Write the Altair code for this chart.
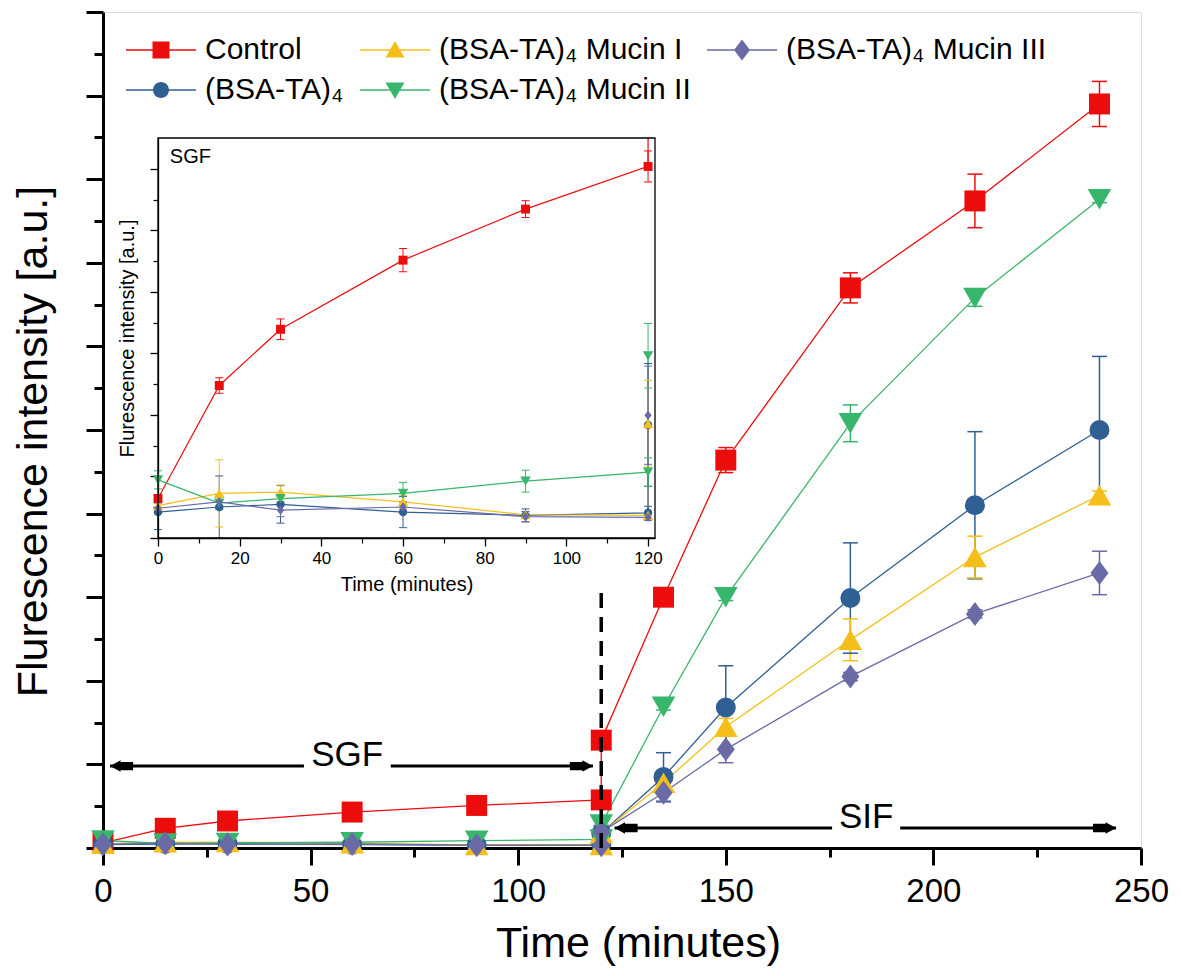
import altair as alt
import pandas as pd

# ---------------- data ----------------
time = [0, 15, 30, 60, 90, 120, 120, 135, 150, 180, 210, 240]

S_CTRL = "Control"
S_BSA = "(BSA-TA)₄"
S_M1 = "(BSA-TA)₄ Mucin I"
S_M2 = "(BSA-TA)₄ Mucin II"
S_M3 = "(BSA-TA)₄ Mucin III"
series_names = [S_CTRL, S_BSA, S_M1, S_M2, S_M3]

control = [0.061, 0.236, 0.323, 0.430, 0.509, 0.575, 1.29, 3.00, 4.64, 6.70, 7.74, 8.90]
control_err = [0.006, 0.012, 0.016, 0.018, 0.013, 0.024, 0.04, 0.04, 0.15, 0.18, 0.32, 0.27]
bsa = [0.040, 0.048, 0.052, 0.040, 0.035, 0.039, 0.175, 0.85, 1.68, 2.99, 4.10, 5.00]
bsa_err = [0.027, 0.048, 0.029, 0.024, 0.010, 0.010, 0.095, 0.29, 0.50, 0.66, 0.88, 0.88]
mucin1 = [0.050, 0.069, 0.071, 0.056, 0.036, 0.035, 0.177, 0.78, 1.45, 2.49, 3.48, 4.22]
mucin1_err = [0.010, 0.052, 0.011, 0.010, 0.005, 0.005, 0.067, 0.06, 0.10, 0.25, 0.25, 0.05]
mucin2 = [0.090, 0.054, 0.061, 0.069, 0.088, 0.102, 0.282, 1.69, 3.00, 5.08, 6.58, 7.76]
mucin2_err = [0.014, 0.010, 0.005, 0.017, 0.017, 0.022, 0.05, 0.04, 0.04, 0.22, 0.10, 0.04]
mucin3 = [0.046, 0.056, 0.043, 0.048, 0.033, 0.032, 0.190, 0.66, 1.18, 2.05, 2.80, 3.29]
mucin3_err = [0.008, 0.010, 0.010, 0.008, 0.008, 0.005, 0.076, 0.11, 0.16, 0.05, 0.05, 0.26]

# annotations (main panel)
arrow_x1 = [1.7, 69.3, 123.2, 192.0]
arrow_x2 = [48.4, 118.0, 175.6, 244.0]
arrow_y = [0.98, 0.98, 0.24, 0.24]
head_left_x = [1.7, 123.2]
head_left_y = [0.98, 0.24]
head_right_x = [118.0, 244.0]
head_right_y = [0.98, 0.24]
phase_text = ["SGF", "SIF"]
phase_x = [58.8, 183.8]
phase_y = [0.98, 0.24]
divider_x = [120]
divider_top = [3.05]

# inset window
INSET_XMAX = 121.7
INSET_YMAX = 0.619

colors = {
    S_CTRL: "#ec0c0c",
    S_BSA: "#305f93",
    S_M1: "#f4bf1a",
    S_M2: "#38b66b",
    S_M3: "#6a6aa6",
}

rows = []
for name, vals, errs in zip(series_names,
                            [control, bsa, mucin1, mucin2, mucin3],
                            [control_err, bsa_err, mucin1_err, mucin2_err, mucin3_err]):
    for i, (t, v, e) in enumerate(zip(time, vals, errs)):
        rows.append(dict(series=name, idx=i, time=t, value=v, lo=v - e, hi=v + e))
df = pd.DataFrame(rows)

seg_df = pd.DataFrame({"x1": arrow_x1, "x2": arrow_x2, "y": arrow_y})
hl_df = pd.DataFrame({"x": head_left_x, "y": head_left_y})
hr_df = pd.DataFrame({"x": head_right_x, "y": head_right_y})
txt_df = pd.DataFrame({"x": phase_x, "y": phase_y, "text": phase_text})
div_df = pd.DataFrame({"x": divider_x, "y1": [0], "y2": divider_top})
frame_df = pd.DataFrame({"x1": [0], "x2": [INSET_XMAX], "y1": [0], "y2": [INSET_YMAX]})
inset_lbl_df = pd.DataFrame({"x": [2.9], "y": [0.580], "text": ["SGF"]})

FONT = "Liberation Sans"

# ---------------- legend (line + marker symbols) ----------------
LINE = "M-3.5,-0.07H3.5V0.07H-3.5Z"
legend_paths = {
    S_CTRL: LINE + "M-0.85,-0.85H0.85V0.85H-0.85Z",
    S_BSA: LINE + "M0.8,0A0.8,0.8,0,1,1,-0.8,0A0.8,0.8,0,1,1,0.8,0Z",
    S_M1: LINE + "M0,-0.9L0.95,0.75L-0.95,0.75Z",
    S_M2: LINE + "M0,0.9L-0.95,-0.75L0.95,-0.75Z",
    S_M3: LINE + "M0,-1.05L0.8,0L0,1.05L-0.8,0Z",
}
# legend is filled column by column (2 rows)
legend_order = [S_CTRL, S_BSA, S_M1, S_M2, S_M3]
color_scale = alt.Scale(domain=legend_order, range=[colors[s] for s in legend_order])
shape_scale = alt.Scale(domain=legend_order, range=[legend_paths[s] for s in legend_order])

leg = alt.Legend(title=None, orient="none", legendX=43, legendY=23, columns=3,
                 symbolSize=400, symbolStrokeWidth=0, labelFontSize=30, labelFont=FONT,
                 labelColor="black", labelOffset=29, labelLimit=600, columnPadding=16,
                 rowPadding=10)

axis_style = dict(tickColor="black", domainColor="black", labelColor="black",
                  titleColor="black", titleFontWeight="normal", labelFont=FONT,
                  titleFont=FONT, grid=False, labelFlush=False)

# ---------------- main panel ----------------
xs_main = alt.Scale(domain=[0, 250], nice=False, zero=False)
ys_main = alt.Scale(domain=[0, 10], nice=False, zero=False)
ax_x_main = alt.Axis(orient="bottom", values=[0, 50, 100, 150, 200, 250], format="d",
                     tickSize=17, tickWidth=3, domainWidth=3, labelFontSize=33,
                     labelPadding=10, title="Time (minutes)", titleFontSize=43,
                     titlePadding=14, titleX=535, **axis_style)
ax_y_main = alt.Axis(orient="left", values=list(range(0, 11)), labels=False,
                     tickSize=17, tickWidth=3, domainWidth=3,
                     title="Flurescence intensity [a.u.]", titleFontSize=43,
                     titlePadding=29, titleY=429, **axis_style)

mX = alt.X("time:Q", scale=xs_main, axis=ax_x_main)
colr = alt.Color("series:N", scale=color_scale, legend=None)

base = alt.Chart(df)

legend_layer = base.transform_filter("false").mark_point(filled=True, opacity=1).encode(
    x=mX, y=alt.Y("value:Q", scale=ys_main, axis=ax_y_main),
    color=alt.Color("series:N", scale=color_scale, legend=leg),
    shape=alt.Shape("series:N", scale=shape_scale, legend=leg))

main_line = base.mark_line(strokeWidth=1.3).encode(
    x=mX, y=alt.Y("value:Q", scale=ys_main, axis=ax_y_main),
    color=colr, detail="series:N", order="idx:Q")
main_err = base.mark_rule(strokeWidth=1.5).encode(
    x=mX, y=alt.Y("lo:Q", scale=ys_main, axis=ax_y_main), y2="hi:Q", color=colr)
main_caps = base.transform_fold(["lo", "hi"], as_=["end", "cap"]).mark_point(
    shape="M-1,0L1,0", filled=False, size=225, strokeWidth=1.5, opacity=1).encode(
    x=mX, y=alt.Y("cap:Q", scale=ys_main, axis=ax_y_main), color=colr)

main_shapes = {
    S_CTRL: ("square", 440),
    S_BSA: ("circle", 400),
    S_M1: ("triangle-up", 560),
    S_M2: ("triangle-down", 560),
    S_M3: ("M0,-1.2L0.9,0L0,1.2L-0.9,0Z", 400),
}
main_points = []
for s in series_names:
    shp, sz = main_shapes[s]
    main_points.append(
        base.transform_filter(alt.datum.series == s).mark_point(
            shape=shp, size=sz, filled=True, opacity=1, color=colors[s]).encode(
            x=mX, y=alt.Y("value:Q", scale=ys_main, axis=ax_y_main)))

g_main = alt.layer(legend_layer, main_line, main_err, main_caps, *main_points)

# ---------------- main minor ticks + annotations ----------------
ax_x_minor = alt.Axis(orient="bottom", values=[25, 75, 125, 175, 225], labels=False,
                      domain=False, tickSize=9, tickWidth=3, title=None, tickColor="black",
                      grid=False)
ax_y_minor = alt.Axis(orient="left", values=[i + 0.5 for i in range(10)], labels=False,
                      domain=False, tickSize=9, tickWidth=3, title=None, tickColor="black",
                      grid=False)
xs_main2 = alt.Scale(domain=[0, 250], nice=False, zero=False)
ys_main2 = alt.Scale(domain=[0, 10], nice=False, zero=False)

seg = alt.Chart(seg_df).mark_rule(strokeWidth=3, color="black").encode(
    x=alt.X("x1:Q", scale=xs_main2, axis=ax_x_minor), x2="x2:Q",
    y=alt.Y("y:Q", scale=ys_main2, axis=ax_y_minor))
HEAD_L = "M0,0L1.0,-0.55L1.0,-0.4L2.2,-0.4L2.2,0.4L1.0,0.4L1.0,0.55Z"
HEAD_R = "M0,0L-1.0,-0.55L-1.0,-0.4L-2.2,-0.4L-2.2,0.4L-1.0,0.4L-1.0,0.55Z"
hl = alt.Chart(hl_df).mark_point(shape=HEAD_L, size=440, filled=True, opacity=1,
                                 color="black").encode(
    x=alt.X("x:Q", scale=xs_main2, axis=ax_x_minor),
    y=alt.Y("y:Q", scale=ys_main2, axis=ax_y_minor))
hr = alt.Chart(hr_df).mark_point(shape=HEAD_R, size=440, filled=True, opacity=1,
                                 color="black").encode(
    x=alt.X("x:Q", scale=xs_main2, axis=ax_x_minor),
    y=alt.Y("y:Q", scale=ys_main2, axis=ax_y_minor))
txt = alt.Chart(txt_df).mark_text(fontSize=35, font=FONT, baseline="alphabetic",
                                  align="center", color="black").encode(
    x=alt.X("x:Q", scale=xs_main2, axis=ax_x_minor),
    y=alt.Y("y:Q", scale=ys_main2, axis=ax_y_minor), text="text:N")
div = alt.Chart(div_df).mark_rule(strokeWidth=3.5, strokeDash=[15, 9], color="black").encode(
    x=alt.X("x:Q", scale=xs_main2, axis=ax_x_minor),
    y=alt.Y("y1:Q", scale=ys_main2, axis=ax_y_minor), y2="y2:Q")

g_ann = alt.layer(div, seg, hl, hr, txt)

# ---------------- inset ----------------
in_step = INSET_YMAX / 6.5
xs_in = alt.Scale(domain=[0, INSET_XMAX], range=[55, 552], clamp=True, nice=False, zero=False)
ys_in = alt.Scale(domain=[0, INSET_YMAX], range=[526, 126], clamp=True, nice=False, zero=False)
ax_x_in = alt.Axis(orient="bottom", offset=-310, values=[0, 20, 40, 60, 80, 100, 120],
                   format="d", tickSize=8, tickWidth=1.3, domainWidth=1.3, labelFontSize=17,
                   labelPadding=4, title="Time (minutes)", titleFontSize=20,
                   titlePadding=8, **axis_style)
ax_y_in = alt.Axis(orient="left", offset=-55, values=[in_step * i for i in range(7)],
                   labels=False, tickSize=8, tickWidth=1.3, domainWidth=1.3,
                   title="Flurescence intensity [a.u.]", titleFontSize=20,
                   titlePadding=12, **axis_style)
iX = alt.X("time:Q", scale=xs_in, axis=ax_x_in)
win = "datum.time <= 120"
vis = f"datum.time <= 120 && datum.value <= {INSET_YMAX}"

in_line = base.transform_filter(win).mark_line(strokeWidth=1.2).encode(
    x=iX, y=alt.Y("value:Q", scale=ys_in, axis=ax_y_in),
    color=colr, detail="series:N", order="idx:Q")
in_err = base.transform_filter(vis).mark_rule(strokeWidth=1).encode(
    x=iX, y=alt.Y("lo:Q", scale=ys_in, axis=ax_y_in), y2="hi:Q", color=colr)
in_caps = base.transform_filter(vis).transform_fold(["lo", "hi"], as_=["end", "cap"]).transform_filter(
    f"datum.cap <= {INSET_YMAX}").mark_point(
    shape="M-1,0L1,0", filled=False, size=64, strokeWidth=1, opacity=1).encode(
    x=iX, y=alt.Y("cap:Q", scale=ys_in, axis=ax_y_in), color=colr)
in_shapes = {
    S_CTRL: ("square", 80),
    S_BSA: ("circle", 70),
    S_M1: ("triangle-up", 110),
    S_M2: ("triangle-down", 110),
    S_M3: ("M0,-1.2L0.9,0L0,1.2L-0.9,0Z", 64),
}
in_points = []
for s in series_names:
    shp, sz = in_shapes[s]
    in_points.append(
        base.transform_filter(vis).transform_filter(alt.datum.series == s).mark_point(
            shape=shp, size=sz, filled=True, opacity=1, color=colors[s]).encode(
            x=iX, y=alt.Y("value:Q", scale=ys_in, axis=ax_y_in)))

g_in = alt.layer(in_line, in_err, in_caps, *in_points)

# ---------------- inset frame + minor ticks ----------------
xs_in2 = alt.Scale(domain=[0, INSET_XMAX], range=[55, 552], clamp=True, nice=False, zero=False)
ys_in2 = alt.Scale(domain=[0, INSET_YMAX], range=[526, 126], clamp=True, nice=False, zero=False)
ax_x_in_minor = alt.Axis(orient="bottom", offset=-310, values=[10, 30, 50, 70, 90, 110],
                         labels=False, domain=False, tickSize=5, tickWidth=1.2, title=None,
                         tickColor="black", grid=False)
ax_y_in_minor = alt.Axis(orient="left", offset=-55, values=[in_step * (i + 0.5) for i in range(6)],
                         labels=False, domain=False, tickSize=5, tickWidth=1.2, title=None,
                         tickColor="black", grid=False)
frame = alt.Chart(frame_df).mark_rect(fill="transparent", stroke="black", strokeWidth=1.3).encode(
    x=alt.X("x1:Q", scale=xs_in2, axis=ax_x_in_minor), x2="x2:Q",
    y=alt.Y("y1:Q", scale=ys_in2, axis=ax_y_in_minor), y2="y2:Q")
in_lbl = alt.Chart(inset_lbl_df).mark_text(fontSize=20, font=FONT, align="left",
                                           baseline="alphabetic", color="black").encode(
    x=alt.X("x:Q", scale=xs_in2, axis=ax_x_in_minor),
    y=alt.Y("y:Q", scale=ys_in2, axis=ax_y_in_minor), text="text:N")
g_frame = alt.layer(frame, in_lbl)

chart = alt.layer(g_main, g_ann, g_in, g_frame).resolve_scale(
    x="independent", y="independent"
).properties(
    width=1038, height=836,
    autosize=alt.AutoSizeParams(type="none"),
    padding={"left": 95, "top": 4, "right": 30, "bottom": 119},
).configure_view(stroke="black", strokeWidth=3).configure(font=FONT)

chart.save("out.html", embed_options={"renderer": "svg", "actions": False})
